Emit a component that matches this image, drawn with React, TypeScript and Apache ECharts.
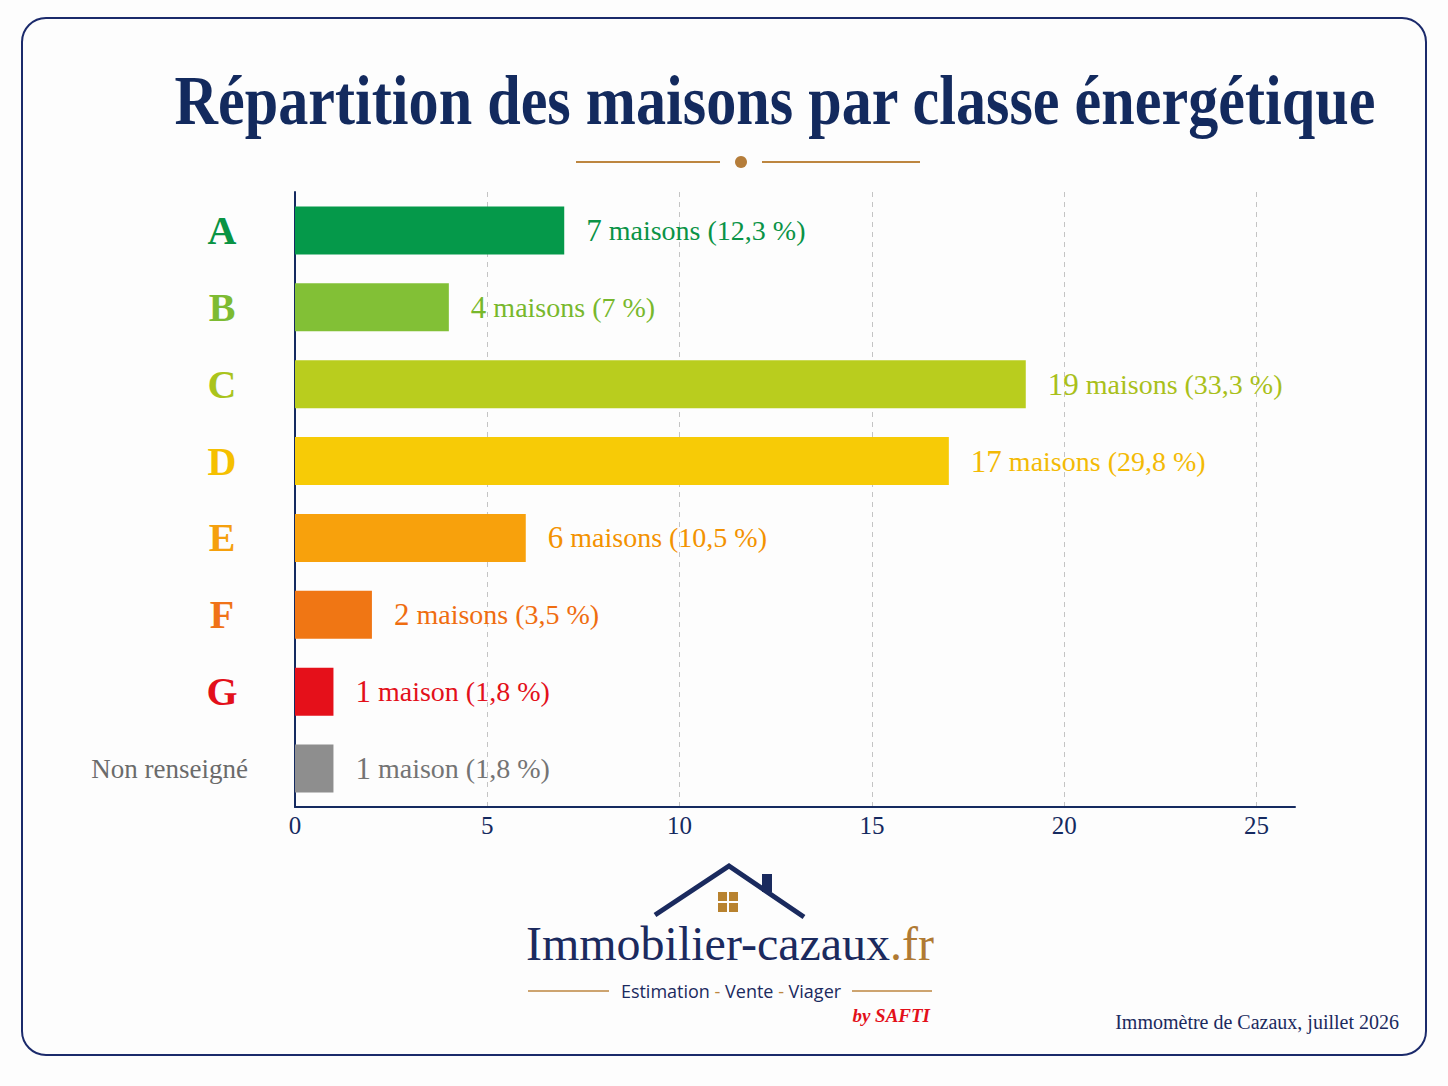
import React, { useEffect, useRef } from "react";
import * as echarts from "echarts";

const categories = ["A", "B", "C", "D", "E", "F", "G", "Non renseigné"];
const counts = [7, 4, 19, 17, 6, 2, 1, 1];
const percents = [12.3, 7, 33.3, 29.8, 10.5, 3.5, 1.8, 1.8];
const barColors = ["#05994a", "#82c036", "#b9cd1e", "#f7cb06", "#f8a10c", "#f07614", "#e5101a", "#8e8e8e"];
const labelColors = ["#0a9346", "#78b82c", "#a9c01a", "#f3ba05", "#f39200", "#ef6d10", "#e3101a", "#747474"];
const axisLabelColors = ["#0a9444", "#7dbb32", "#aac41c", "#f5c000", "#f5a00d", "#f07318", "#e3101a", "#6b6b6b"];
const xTicks = [0, 5, 10, 15, 20, 25];
const xMax = 26;

const NAVY = "#152a60";
const GOLD = "#bd8640";
const SERIF = "'Liberation Serif', 'Times New Roman', serif";

export default function App() {
  const ref = useRef<HTMLDivElement>(null);

  useEffect(() => {
    if (!ref.current) return;
    const chart = echarts.init(ref.current, undefined, { renderer: "svg" });

    const rich: Record<string, any> = {};
    axisLabelColors.forEach((c, i) => {
      rich["l" + i] = {
        color: c,
        fontFamily: SERIF,
        fontWeight: "bold",
        fontSize: 40,
        width: 52,
        align: "center",
      };
    });
    rich["nr"] = { color: axisLabelColors[7], fontFamily: SERIF, fontSize: 27 };

    const fmtPct = (p: number) => String(p).replace(".", ",");

    const option: any = {
      animation: false,
      backgroundColor: "#fdfdfd",
      grid: { left: 295, right: 1448 - 1295, top: 192, bottom: 1086 - 807, containLabel: false },
      xAxis: {
        type: "value",
        min: 0,
        max: xMax,
        interval: 5,
        axisLine: { show: true, lineStyle: { color: NAVY, width: 2 } },
        axisTick: { show: false },
        axisLabel: {
          color: NAVY,
          fontFamily: SERIF,
          fontSize: 25,
          margin: 6,
          formatter: (v: number) => (xTicks.indexOf(v) >= 0 ? String(v) : ""),
        },
        splitLine: {
          show: true,
          showMinLine: false,
          showMaxLine: false,
          lineStyle: { color: "#c4c4c4", type: [5, 5], width: 1 },
        },
      },
      yAxis: {
        type: "category",
        data: categories,
        inverse: true,
        axisLine: { show: true, lineStyle: { color: NAVY, width: 2 } },
        axisTick: { show: false },
        splitLine: { show: false },
        axisLabel: {
          margin: 47,
          align: "right",
          formatter: (v: string, i: number) =>
            i < 7 ? `{l${i}|${v}}` : `{nr|${v}}`,
          rich,
        },
      },
      series: [
        {
          type: "bar",
          barWidth: 48,
          data: counts.map((v, i) => ({
            value: v,
            itemStyle: { color: barColors[i] },
            label: {
              show: true,
              position: "right",
              distance: 22,
              formatter: `{n|${v}}{t| maison${v > 1 ? "s" : ""} (${fmtPct(percents[i])} %)}`,
              rich: {
                n: { color: labelColors[i], fontFamily: SERIF, fontSize: 31 },
                t: { color: labelColors[i], fontFamily: SERIF, fontSize: 28 },
              },
            },
          })),
        },
      ],
      graphic: [
        {
          type: "rect",
          shape: { x: 22, y: 18, width: 1404, height: 1037, r: 24 },
          style: { fill: "none", stroke: "#1b2a6b", lineWidth: 2 },
          z: -1,
        },
        {
          type: "text",
          x: 775,
          y: 100,
          scaleX: 0.86,
          style: {
            text: "Répartition des maisons par classe énergétique",
            font: `bold 70px ${SERIF}`,
            fill: "#132a5e",
            textAlign: "center",
            textVerticalAlign: "middle",
          },
        },
        { type: "line", shape: { x1: 576, y1: 162, x2: 720, y2: 162 }, style: { stroke: GOLD, lineWidth: 2 } },
        { type: "line", shape: { x1: 762, y1: 162, x2: 920, y2: 162 }, style: { stroke: GOLD, lineWidth: 2 } },
        { type: "circle", shape: { cx: 741, cy: 162, r: 6 }, style: { fill: "#b57d3a" } },
        // house logo
        {
          type: "polyline",
          shape: { points: [[655, 915], [729, 866], [804, 917]] },
          style: { stroke: "#1a2a5e", lineWidth: 5, fill: "none" },
        },
        { type: "rect", shape: { x: 762, y: 874, width: 10, height: 18 }, style: { fill: "#1a2a5e" } },
        { type: "rect", shape: { x: 718, y: 892, width: 9, height: 9 }, style: { fill: "#b8822f" } },
        { type: "rect", shape: { x: 729, y: 892, width: 9, height: 9 }, style: { fill: "#b8822f" } },
        { type: "rect", shape: { x: 718, y: 903, width: 9, height: 9 }, style: { fill: "#b8822f" } },
        { type: "rect", shape: { x: 729, y: 903, width: 9, height: 9 }, style: { fill: "#b8822f" } },
        {
          type: "text",
          x: 730,
          y: 967,
          style: {
            text: "{a|Immobilier-cazaux}{b|.fr}",
            textAlign: "center",
            textVerticalAlign: "bottom",
            rich: {
              a: { font: `48px ${SERIF}`, fill: "#1b2a5e" },
              b: { font: `48px ${SERIF}`, fill: "#b07a33" },
            },
          },
        },
        { type: "line", shape: { x1: 528, y1: 991, x2: 609, y2: 991 }, style: { stroke: GOLD, lineWidth: 1.5 } },
        { type: "line", shape: { x1: 852, y1: 991, x2: 932, y2: 991 }, style: { stroke: GOLD, lineWidth: 1.5 } },
        {
          type: "text",
          x: 731,
          y: 991,
          style: {
            text: "{t|Estimation}{d| - }{t|Vente}{d| - }{t|Viager}",
            textAlign: "center",
            textVerticalAlign: "middle",
            rich: {
              t: { font: `18px 'Open Sans', sans-serif`, fill: "#1b2a5e" },
              d: { font: `18px 'Open Sans', sans-serif`, fill: GOLD },
            },
          },
        },
        {
          type: "text",
          x: 930,
          y: 1015,
          style: {
            text: "by SAFTI",
            font: `italic bold 19px ${SERIF}`,
            fill: "#e3101a",
            textAlign: "right",
            textVerticalAlign: "middle",
          },
        },
        {
          type: "text",
          x: 1399,
          y: 1022,
          style: {
            text: "Immomètre de Cazaux, juillet 2026",
            font: `20px ${SERIF}`,
            fill: "#1b2a5e",
            textAlign: "right",
            textVerticalAlign: "middle",
          },
        },
      ],
    };

    chart.setOption(option);
    return () => chart.dispose();
  }, []);

  return (
    <div
      ref={ref}
      style={{ position: "fixed", left: 0, top: 0, width: 1448, height: 1086 }}
    />
  );
}
